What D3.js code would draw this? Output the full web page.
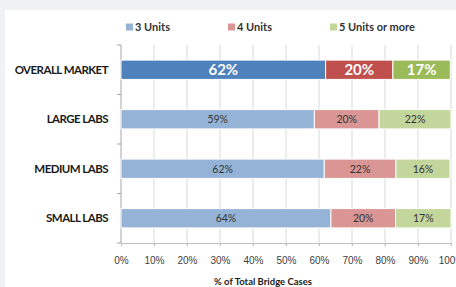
<!DOCTYPE html>
<html>
<head>
<meta charset="utf-8">
<script src="https://cdn.jsdelivr.net/npm/d3@7"></script>
<style>
  body { margin: 0; background: #f0f1f3; }
  svg { display: block; font-family: Lato, "Open Sans", sans-serif; }
</style>
</head>
<body>
<svg id="chart" width="456" height="287"></svg>
<script>
  // values (% of total bridge cases)
  const categories = ['OVERALL MARKET', 'LARGE LABS', 'MEDIUM LABS', 'SMALL LABS'];
  const seriesNames = ['3 Units', '4 Units', '5 Units or more'];
  const units3 = [62.0, 58.6, 61.6, 63.6];
  const units4 = [20.4, 19.6, 21.7, 19.6];
  const units5 = [17.4, 21.8, 16.4, 16.8];
  const xTicks = [0, 10, 20, 30, 40, 50, 60, 70, 80, 90, 100];

  const darkColors = ['#4f81bd', '#c0504d', '#9bbb59'];
  const lightColors = ['#95b3d7', '#d99694', '#c3d69b'];

  const rows = categories.map((c, i) => ({cat: c, '3 Units': units3[i], '4 Units': units4[i], '5 Units or more': units5[i]}));
  const stacked = d3.stack().keys(seriesNames)(rows);

  const svg = d3.select('#chart');
  svg.append('rect').attr('x', 5).attr('y', 10).attr('width', 460).attr('height', 290).attr('fill', '#fff');

  const x = d3.scaleLinear().domain([0, 100]).range([121, 451]);
  const y = d3.scaleBand().domain(categories).range([45, 243]).paddingInner(0.61).paddingOuter(0.305);

  // vertical gridlines + tick marks below axis
  svg.append('g').selectAll('line').data(xTicks.slice(1)).enter()
    .append('line')
    .attr('x1', d => x(d)).attr('x2', d => x(d))
    .attr('y1', 45).attr('y2', 246)
    .attr('stroke', '#d9d9d9').attr('stroke-width', 1);

  // bottom axis
  const xAxis = svg.append('g').attr('transform', 'translate(0,243)')
    .call(d3.axisBottom(x).tickValues(xTicks).tickFormat(d => d + '%').tickSize(3));
  xAxis.select('.domain').attr('stroke', '#bfbfbf');
  xAxis.selectAll('.tick line').attr('stroke', '#bfbfbf');
  xAxis.selectAll('text').attr('font-size', 10).attr('fill', '#404040')
    .attr('dy', 0).attr('y', 21);

  // left axis with tick marks at band boundaries
  const bounds = [45].concat(categories.map(c => y(c) + y.bandwidth() + y.step() * y.paddingInner() / 2));
  bounds[bounds.length - 1] = 243;
  svg.append('line').attr('x1', 121).attr('x2', 121).attr('y1', 45).attr('y2', 243)
    .attr('stroke', '#a6a6a6');
  svg.append('g').selectAll('line').data(bounds).enter()
    .append('line')
    .attr('x1', 117).attr('x2', 121)
    .attr('y1', d => d).attr('y2', d => d)
    .attr('stroke', '#a6a6a6');

  // category labels
  svg.append('g').selectAll('text').data(categories).enter()
    .append('text')
    .attr('x', 108).attr('y', d => y(d) + y.bandwidth() / 2)
    .attr('dy', '0.35em').attr('text-anchor', 'end')
    .attr('font-size', 11.5).attr('font-weight', 'bold').attr('fill', '#1a1a1a')
    .attr('letter-spacing', -0.55)
    .text(d => d);

  // bars
  const fmt = d3.format('.0f');
  stacked.forEach((s, si) => {
    const g = svg.append('g');
    g.selectAll('rect').data(s).enter()
      .append('rect')
      .attr('x', d => x(d[0]))
      .attr('y', d => y(d.data.cat))
      .attr('width', d => x(d[1]) - x(d[0]))
      .attr('height', y.bandwidth())
      .attr('fill', (d, i) => i === 0 ? darkColors[si] : lightColors[si])
      .attr('stroke', '#fff').attr('stroke-width', 1);
    g.selectAll('text').data(s).enter()
      .append('text')
      .attr('x', d => (x(d[0]) + x(d[1])) / 2)
      .attr('y', d => y(d.data.cat) + y.bandwidth() / 2)
      .attr('dy', '0.36em').attr('text-anchor', 'middle')
      .attr('font-size', (d, i) => i === 0 ? 15 : 10.5)
      .attr('font-weight', (d, i) => i === 0 ? 'bold' : 'normal')
      .attr('fill', (d, i) => i === 0 ? '#fff' : '#333')
      .text(d => fmt(d[1] - d[0]) + '%');
  });

  // legend
  const legend = svg.append('g').selectAll('g').data(seriesNames).enter()
    .append('g').attr('transform', (d, i) => `translate(${126 + i * 102},27)`);
  legend.append('rect').attr('x', 0).attr('y', -3.5).attr('width', 7).attr('height', 7)
    .attr('fill', (d, i) => lightColors[i]);
  legend.append('text').attr('x', 9).attr('dy', '0.35em')
    .attr('font-size', 11).attr('font-weight', 'bold').attr('fill', '#333')
    .text(d => d);

  // axis title
  svg.append('text').attr('x', 263).attr('y', 285).attr('text-anchor', 'middle')
    .attr('font-size', 9.5).attr('font-weight', 'bold').attr('fill', '#1a1a1a')
    .text('% of Total Bridge Cases');
</script>
</body>
</html>
